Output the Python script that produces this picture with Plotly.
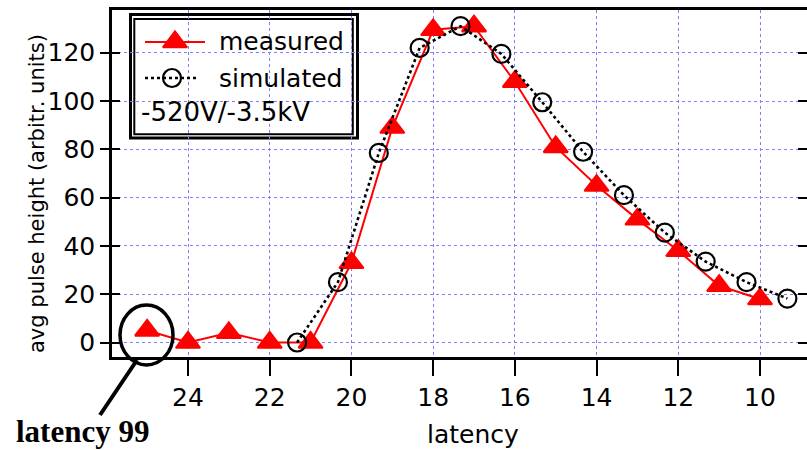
import plotly.graph_objects as go

# ---- data ----
meas_latency = [25, 24, 23, 22, 21, 20, 19, 18, 17, 16, 15, 14, 13, 12, 11, 10]
meas_height = [5, 0, 4, 0, 0, 33, 89, 129.5, 131, 108, 81, 65, 51, 38, 23.5, 18]
sim_latency = [21.33, 20.33, 19.33, 18.33, 17.33, 16.33, 15.33, 14.33, 13.33, 12.33, 11.33, 10.33, 9.33]
sim_height = [0, 25, 78.5, 122, 131, 119.5, 99.5, 79, 61, 45.5, 33.5, 25, 18.2]
x_ticks = [24, 22, 20, 18, 16, 14, 12, 10]
y_ticks = [0, 20, 40, 60, 80, 100, 120]
legend_label = "-520V/-3.5kV"
callout_text = "latency 99"

W, H = 807, 450
L, R, T, B = 112, 0, 10, 93
PW, PH = W - L - R, H - T - B


def px(x):
    return (x - L) / PW


def py(y):
    return (H - B - y) / PH


FONT = "DejaVu Sans"
RED = "#ff0000"
GRID = "#8080ff"

fig = go.Figure()

fig.add_trace(go.Scatter(
    x=meas_latency, y=meas_height, mode="lines+markers", name="measured",
    line=dict(color=RED, width=2),
    marker=dict(symbol="triangle-up", size=21, color=RED, line=dict(color=RED, width=2)),
    showlegend=False))
fig.add_trace(go.Scatter(
    x=sim_latency, y=sim_height, mode="lines+markers", name="simulated",
    line=dict(color="black", width=2.6, dash="dot"),
    marker=dict(symbol="circle-open", size=18, color="black", line=dict(color="black", width=2.2)),
    showlegend=False))

# legend samples on a paper-like hidden axis pair
fig.add_trace(go.Scatter(
    x=[px(145), px(205)], y=[py(42), py(42)], mode="lines",
    line=dict(color=RED, width=2), xaxis="x2", yaxis="y5", showlegend=False, hoverinfo="skip"))
fig.add_trace(go.Scatter(
    x=[px(175)], y=[py(42)], mode="markers",
    marker=dict(symbol="triangle-up", size=21, color=RED, line=dict(color=RED, width=2)),
    xaxis="x2", yaxis="y5", showlegend=False, hoverinfo="skip"))
fig.add_trace(go.Scatter(
    x=[px(145), px(199)], y=[py(78), py(78)], mode="lines",
    line=dict(color="black", width=2.6, dash="dot"), xaxis="x2", yaxis="y5", showlegend=False, hoverinfo="skip"))
fig.add_trace(go.Scatter(
    x=[px(172)], y=[py(78)], mode="markers",
    marker=dict(symbol="circle-open", size=18, color="black", line=dict(color="black", width=2.2)),
    xaxis="x2", yaxis="y5", showlegend=False, hoverinfo="skip"))

xr = [25.86, 8.85]
yr = [-6.0, 137.7]

fig.update_layout(
    width=W, height=H,
    margin=dict(l=L, r=R, t=T, b=B, pad=0),
    paper_bgcolor="white", plot_bgcolor="white",
    font=dict(family=FONT, color="black", size=25),
    xaxis=dict(range=xr, tickvals=x_ticks, ticks="outside", ticklen=16, tickwidth=2,
               tickcolor="black", showline=True, linewidth=2.5, linecolor="black", mirror=True,
               showgrid=True, gridcolor=GRID, gridwidth=1, griddash="dot", zeroline=False,
               tickfont=dict(size=25, family=FONT)),
    yaxis=dict(range=yr, tickvals=y_ticks, ticks="outside", ticklen=9, tickwidth=2,
               tickcolor="black", showline=True, linewidth=2.5, linecolor="black",
               showgrid=True, gridcolor=GRID, gridwidth=1, griddash="dot", zeroline=False,
               tickfont=dict(size=25, family=FONT)),
    yaxis2=dict(range=yr, tickvals=y_ticks, overlaying="y", side="left", ticks="inside",
                ticklen=8, tickwidth=2, tickcolor="black", showticklabels=False,
                showgrid=False, showline=False, zeroline=False),
    yaxis3=dict(range=yr, tickvals=y_ticks, overlaying="y", side="right", ticks="inside",
                ticklen=9, tickwidth=2, tickcolor="black", showticklabels=False,
                showgrid=False, showline=False, zeroline=False),
    xaxis2=dict(range=[0, 1], overlaying="x", visible=False, fixedrange=True),
    yaxis5=dict(range=[0, 1], overlaying="y", visible=False, fixedrange=True),
)

# make tick-only axes exist by anchoring invisible traces
fig.add_trace(go.Scatter(x=[None], y=[None], yaxis="y2", showlegend=False))
fig.add_trace(go.Scatter(x=[None], y=[None], yaxis="y3", showlegend=False))

shapes = [
    # legend box (double border)
    dict(type="rect", xref="paper", yref="paper", x0=px(130.5), x1=px(357.5), y0=py(138), y1=py(14.5),
         line=dict(color="black", width=3), fillcolor="white", layer="below"),
    dict(type="rect", xref="paper", yref="paper", x0=px(134.3), x1=px(352.8), y0=py(134.2), y1=py(19),
         line=dict(color="black", width=2), fillcolor="white", layer="below"),
    # callout ellipse and pointer
    dict(type="circle", xref="paper", yref="paper", x0=px(120), x1=px(173), y0=py(365), y1=py(305),
         line=dict(color="black", width=3.5)),
    dict(type="line", xref="paper", yref="paper", x0=px(100), y0=py(415), x1=px(137), y1=py(360),
         line=dict(color="black", width=4)),
]
fig.update_layout(shapes=shapes)

annotations = [
    dict(text="measured", x=px(217), y=py(42), xref="paper", yref="paper", xanchor="left",
         yanchor="middle", showarrow=False, font=dict(size=25, family=FONT)),
    dict(text="simulated", x=px(217), y=py(78), xref="paper", yref="paper", xanchor="left",
         yanchor="middle", showarrow=False, font=dict(size=25, family=FONT)),
    dict(text=legend_label, x=px(139), y=py(112), xref="paper", yref="paper", xanchor="left",
         yanchor="middle", showarrow=False, font=dict(size=26, family=FONT)),
    dict(text="latency", x=px(473), y=py(434), xref="paper", yref="paper", xanchor="center",
         yanchor="middle", showarrow=False, font=dict(size=25, family=FONT)),
    dict(text="avg pulse height (arbitr. units)", x=px(37), y=py(194), xref="paper", yref="paper",
         xanchor="center", yanchor="middle", textangle=-90, showarrow=False,
         font=dict(size=21, family=FONT)),
    dict(text="<b>" + callout_text + "</b>", x=px(82), y=py(431), xref="paper", yref="paper",
         xanchor="center", yanchor="middle", showarrow=False,
         font=dict(size=31, family="Liberation Serif")),
]
fig.update_layout(annotations=annotations)

fig.write_html("out.html", config={"displayModeBar": False},
               post_script="document.body.style.margin='0';document.body.style.overflow='hidden';")
